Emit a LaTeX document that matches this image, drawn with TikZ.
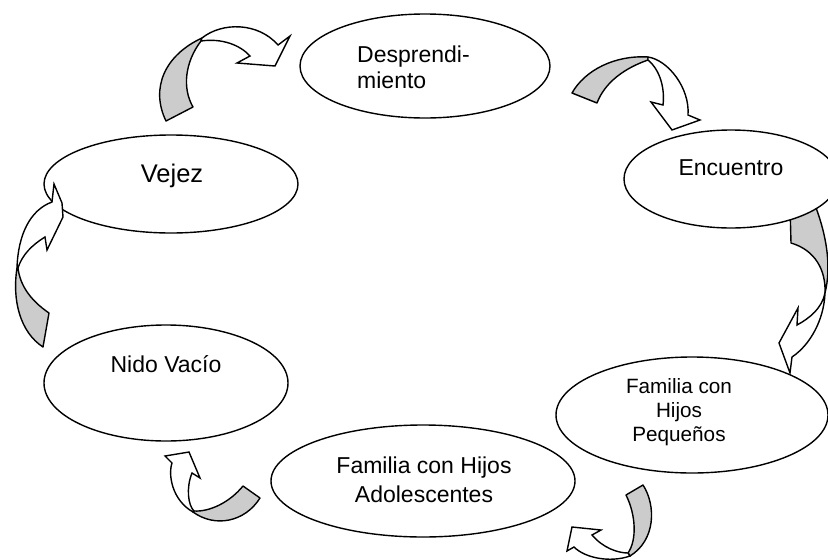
\documentclass[tikz,border=0pt]{standalone}
\usepackage{fontspec}
\setmainfont{Liberation Sans}
\usetikzlibrary{shapes.geometric}
\definecolor{backgray}{RGB}{204,204,204}
\begin{document}
\begin{tikzpicture}[x=1pt,y=-1pt,
  stage/.style={ellipse, draw, line width=1.4pt, fill=white, inner sep=0pt},
  lbl/.style={inner sep=0pt, font=\fontsize{23}{27}\selectfont},
  back/.style={draw, line width=1.4pt, fill=backgray, line join=round},
  front/.style={draw, line width=1.4pt, fill=white, line join=miter},
]
\useasboundingbox (0,0) rectangle (828,560);
\clip (0,0) rectangle (828,560);

% arrow 3 (behind Encuentro)
\path[back] (790,205) -- (791,243) .. controls (815,250) and (826,270) .. (825,293)
  .. controls (832,265) and (826,232) .. (813,200) -- cycle;
\path[front] (825,293) .. controls (824,320) and (810,345) .. (792,357)
  -- (790,373) -- (779,343) -- (798,308) -- (797,325)
  .. controls (810,318) and (822,308) .. (825,293) -- cycle;

% stages
\node[stage, minimum width=250pt, minimum height=104pt] (desp) at (425,66) {};
\node[stage, minimum width=214pt, minimum height=98pt] (enc) at (731,179) {};
\node[stage, minimum width=254pt, minimum height=98pt] (vej) at (171,184) {};
\node[stage, minimum width=244pt, minimum height=116pt] (nido) at (166,383) {};
\node[stage, minimum width=272pt, minimum height=116pt] (peq) at (692,415) {};
\node[stage, minimum width=304pt, minimum height=112pt] (adol) at (423,481) {};

% labels
\node[lbl, anchor=base west] (desp1) at (357,62) {Desprendi-};
\node[lbl, anchor=base west] (desp2) at (357,88) {miento};
\node[lbl, anchor=base] (enct) at (731,175) {Encuentro};
\node[lbl, anchor=base, font=\fontsize{25.5}{30}\selectfont] (vejt) at (172,182) {Vejez};
\node[lbl, anchor=base] (nidot) at (166,372) {Nido Vacío};
\node[lbl, anchor=base, font=\fontsize{20.7}{24}\selectfont] (peq1) at (679,393) {Familia con};
\node[lbl, anchor=base, font=\fontsize{20.7}{24}\selectfont] (peq2) at (679,417) {Hijos};
\node[lbl, anchor=base, font=\fontsize{20.7}{24}\selectfont] (peq3) at (679,441) {Pequeños};
\node[lbl, anchor=base] (adol1) at (424,473) {Familia con Hijos};
\node[lbl, anchor=base] (adol2) at (424,502) {Adolescentes};

% arrow 1: Vejez -> Desprendimiento
\path[back] (166,121) .. controls (150,88) and (165,55) .. (202,38)
  -- (201,41) .. controls (185,62) and (182,88) .. (193,107) -- cycle;
\path[front] (202,38) .. controls (222,22) and (258,22) .. (278,45)
  -- (290,36) -- (275,66) -- (237,63) -- (250,56)
  .. controls (240,45) and (222,38) .. (201,41) -- cycle;

% arrow 2: Desprendimiento -> Encuentro
\path[back] (572,93) .. controls (585,70) and (615,55) .. (648,57)
  -- (648,60) .. controls (625,68) and (605,82) .. (597,103) -- cycle;
\path[front] (648,57) .. controls (668,60) and (690,88) .. (688,115)
  -- (700,120) -- (672,130) -- (651,102) -- (663,105)
  .. controls (665,88) and (660,70) .. (648,60) -- cycle;

% arrow 4: Pequenos -> Adolescentes
\path[back] (626,495) .. controls (636,515) and (637,540) .. (628,553)
  -- (630,556) .. controls (656,540) and (656,505) .. (643,485) -- cycle;
\path[front] (630,556) .. controls (610,563) and (585,558) .. (574,547)
  -- (567,551) -- (572,527) -- (601,530) -- (592,535)
  .. controls (603,548) and (618,553) .. (628,553) -- cycle;

% arrow 5: Adolescentes -> Nido Vacio
\path[back] (260,498) .. controls (245,522) and (215,528) .. (193,512)
  -- (194,511) .. controls (210,512) and (230,502) .. (243,486) -- cycle;
\path[front] (193,512) .. controls (172,500) and (168,475) .. (172,463)
  -- (165,456) -- (189,452) -- (200,478) -- (192,473)
  .. controls (186,488) and (188,505) .. (194,511) -- cycle;

% arrow 6: Nido Vacio -> Vejez
\path[back] (43,347) .. controls (20,332) and (12,300) .. (17,268)
  -- (18,268) .. controls (20,285) and (30,300) .. (49,313) -- cycle;
\path[front] (17,268) .. controls (18,235) and (30,210) .. (52,202)
  -- (54,184) -- (62,203) -- (63,217) -- (47,250) -- (45,237)
  .. controls (32,245) and (22,255) .. (18,268) -- cycle;
\end{tikzpicture}
\end{document}
